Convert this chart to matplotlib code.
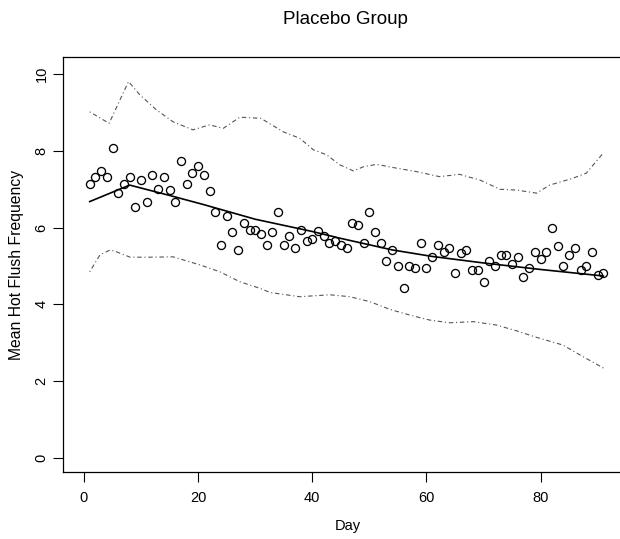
"""Placebo group: daily mean hot flush frequency with fitted trend and bands."""

import matplotlib
matplotlib.use("Agg")
import matplotlib.pyplot as plt

plt.rcParams["font.family"] = ["Liberation Sans", "DejaVu Sans"]

# daily means, days 1..91
days = list(range(1, 92))
mean_freq = [
    7.14, 7.32, 7.48, 7.32, 8.08, 6.90, 7.14, 7.32, 6.54, 7.25,
    6.67, 7.38, 7.02, 7.32, 6.97, 6.67, 7.73, 7.14, 7.43, 7.61,
    7.37, 6.95, 6.42, 5.54, 6.30, 5.88, 5.41, 6.12, 5.94, 5.94,
    5.83, 5.54, 5.88, 6.41, 5.54, 5.77, 5.47, 5.94, 5.65, 5.71,
    5.90, 5.77, 5.60, 5.65, 5.54, 5.48, 6.13, 6.06, 5.59, 6.41,
    5.88, 5.59, 5.12, 5.41, 5.00, 4.42, 5.00, 4.94, 5.59, 4.94,
    5.24, 5.54, 5.36, 5.48, 4.83, 5.35, 5.41, 4.89, 4.89, 4.59,
    5.12, 5.00, 5.30, 5.30, 5.06, 5.24, 4.71, 4.94, 5.36, 5.18,
    5.36, 6.00, 5.53, 5.00, 5.30, 5.48, 4.89, 5.00, 5.36, 4.77,
    4.83,
]

# fitted trend
fit_days = [1, 8, 15, 21, 30, 40, 45, 54, 61, 70, 80, 91]
fit_vals = [6.68, 7.11, 6.84, 6.60, 6.22, 5.90, 5.72, 5.42, 5.25, 5.08, 4.91, 4.74]

# upper / lower bands
upper_days = [1, 4.4, 7.8, 9.8, 12.7, 15.6, 19.1, 22, 24.4, 27.3, 31, 34.9,
              37.8, 40.2, 42.5, 44.8, 47.2, 49, 51.3, 54.8, 58.3, 62.3, 65.8,
              69.4, 72.9, 75.8, 79.3, 81.6, 85.7, 88, 91]
upper_vals = [9.02, 8.72, 9.81, 9.46, 9.07, 8.76, 8.55, 8.68, 8.59, 8.88, 8.85,
              8.50, 8.33, 8.03, 7.90, 7.64, 7.48, 7.59, 7.65, 7.55, 7.46, 7.33,
              7.39, 7.24, 7.00, 6.98, 6.90, 7.11, 7.29, 7.42, 7.95]
lower_days = [1, 2.8, 4.6, 5.7, 8.1, 11.6, 15.6, 20.3, 23.8, 27.3, 30.8, 32.6,
              37.8, 43.1, 46.6, 50.1, 53.6, 57.1, 60.6, 64.1, 68.2, 72.3, 75.8,
              79.3, 83.9, 87.4, 91]
lower_vals = [4.85, 5.29, 5.42, 5.37, 5.23, 5.23, 5.24, 5.03, 4.85, 4.59, 4.42,
              4.31, 4.20, 4.25, 4.20, 4.07, 3.87, 3.72, 3.59, 3.52, 3.55, 3.46,
              3.31, 3.14, 2.94, 2.64, 2.34]

x_ticks = [0, 20, 40, 60, 80]
y_ticks = [0, 2, 4, 6, 8, 10]

fig = plt.figure(figsize=(6.2, 5.39), dpi=100)
# box runs slightly past the right edge of the canvas
ax = fig.add_axes([0.1016, 0.1243, 0.919, 0.77])

ax.plot(upper_days, upper_vals, color="#555555", linewidth=0.8,
        dashes=(1, 2.5, 4, 2.5))
ax.plot(lower_days, lower_vals, color="#555555", linewidth=0.8,
        dashes=(1, 2.5, 4, 2.5))
ax.plot(fit_days, fit_vals, color="black", linewidth=1.2)
ax.plot(days, mean_freq, linestyle="none", marker="o", markersize=5.8,
        markerfacecolor="none", markeredgecolor="black", markeredgewidth=0.95)

ax.set_xlim(-3.68, 96.15)
ax.set_ylim(-0.37, 10.45)
ax.set_xticks(x_ticks)
ax.set_yticks(y_ticks)
ax.tick_params(direction="out", length=7, width=0.8, labelsize=10.5)
ax.tick_params(axis="x", pad=7)
ax.tick_params(axis="y", pad=3.5)
for lbl in ax.get_yticklabels():
    lbl.set_rotation(90)
    lbl.set_va("center")
for spine in ax.spines.values():
    spine.set_linewidth(0.9)

ax.set_xlabel("Day", fontsize=10.5)
ax.set_ylabel("Mean Hot Flush Frequency", fontsize=11.3)
ax.xaxis.set_label_coords(0.5, -0.113)
ax.yaxis.set_label_coords(-0.068, 0.499)
fig.text(0.557, 0.963, "Placebo Group", ha="center", va="center", fontsize=13.5)

plt.savefig("out.png", dpi=100)
plt.close(fig)
